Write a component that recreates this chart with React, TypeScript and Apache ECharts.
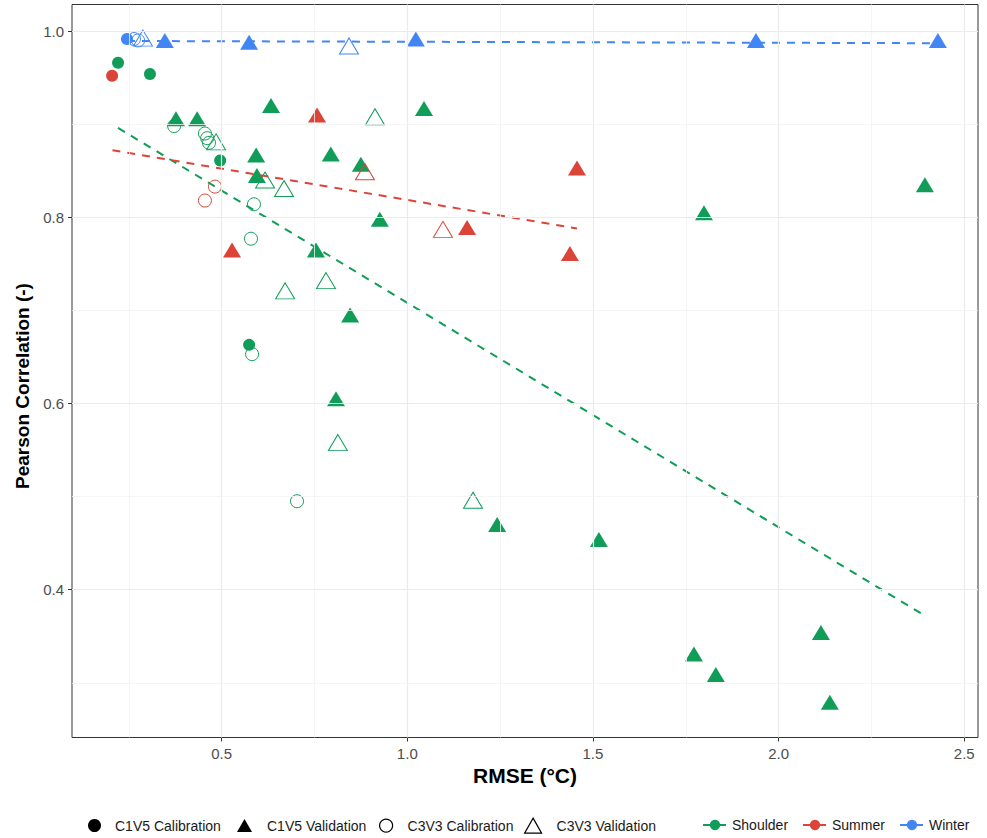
import React, { useEffect, useRef } from "react";
import * as echarts from "echarts";

// ---- data (RMSE °C, Pearson r) ----
const shoulderC1V5Cal = [[0.221, 0.966], [0.307, 0.954], [0.496, 0.861], [0.574, 0.663]];
const shoulderC1V5Val = [
  [0.377, 0.906], [0.434, 0.906], [0.633, 0.92], [1.045, 0.917], [0.593, 0.867],
  [0.794, 0.868], [0.875, 0.857], [0.595, 0.845], [0.926, 0.798], [0.754, 0.765],
  [0.846, 0.695], [0.808, 0.605], [1.242, 0.47], [1.516, 0.454], [1.799, 0.805],
  [2.394, 0.835], [1.772, 0.331], [1.831, 0.309], [2.114, 0.354], [2.138, 0.279],
];
const shoulderC3V3Cal = [
  [0.372, 0.898], [0.455, 0.89], [0.461, 0.885], [0.466, 0.88], [0.587, 0.814],
  [0.579, 0.777], [0.582, 0.653], [0.703, 0.495],
];
const shoulderC3V3Val = [
  [0.485, 0.881], [0.617, 0.84], [0.668, 0.831], [0.913, 0.908], [0.671, 0.721],
  [0.781, 0.732], [0.813, 0.558], [1.177, 0.496],
];
const summerC1V5Cal = [[0.205, 0.952]];
const summerC1V5Val = [[0.757, 0.91], [1.457, 0.853], [0.528, 0.765], [1.161, 0.789], [1.438, 0.761]];
const summerC3V3Cal = [[0.482, 0.833], [0.455, 0.818]];
const summerC3V3Val = [[0.886, 0.849], [1.096, 0.787]];
const winterC1V5Cal = [[0.245, 0.9915]];
const winterC1V5Val = [[0.347, 0.99], [0.574, 0.988], [1.023, 0.9915], [1.939, 0.99], [2.429, 0.99]];
const winterC3V3Cal = [[0.264, 0.9915], [0.275, 0.99]];
const winterC3V3Val = [[0.288, 0.9925], [0.843, 0.984]];

const shoulderTrend = [[0.221, 0.896], [2.394, 0.372]];
const summerTrend = [[0.206, 0.872], [1.457, 0.788]];
const winterTrend = [[0.245, 0.9894], [2.429, 0.987]];

const xTicks = [0.5, 1.0, 1.5, 2.0, 2.5];
const xMinor = [0.25, 0.75, 1.25, 1.75, 2.25];
const yTicks = [0.4, 0.6, 0.8, 1.0];
const yMinor = [0.3, 0.5, 0.7, 0.9];

const shapeNames = ["C1V5 Calibration", "C1V5 Validation", "C3V3 Calibration", "C3V3 Validation"];
const seasonNames = ["Shoulder", "Summer", "Winter"];

const GREEN = "#0F9D58";
const RED = "#DB4437";
const BLUE = "#4285F4";
const FONT = "Liberation Sans, Arial, Helvetica, sans-serif";

type Kind = "fc" | "ft" | "oc" | "ot";

function pointSeries(name: string, data: number[][], color: string, kind: Kind) {
  const base: any = {
    name,
    type: "scatter",
    data,
    z: 3,
    silent: true,
    emphasis: { disabled: true },
  };
  if (kind === "fc") {
    base.symbol = "circle";
    base.symbolSize = 12;
    base.itemStyle = { color, opacity: 1 };
  } else if (kind === "ft") {
    base.symbol = "triangle";
    base.symbolSize = [18, 15];
    base.itemStyle = { color, opacity: 1 };
  } else if (kind === "oc") {
    base.symbol = "circle";
    base.symbolSize = 13;
    base.itemStyle = { color: "rgba(0,0,0,0)", borderColor: color, borderWidth: 1, opacity: 1 };
  } else {
    base.symbol = "triangle";
    base.symbolSize = [19, 16];
    base.itemStyle = { color: "rgba(0,0,0,0)", borderColor: color, borderWidth: 1, opacity: 1 };
  }
  return base;
}

function trendSeries(name: string, data: number[][], color: string) {
  return {
    name,
    type: "line",
    data,
    z: 4,
    silent: true,
    symbol: "circle",
    symbolSize: 10,
    showSymbol: false,
    itemStyle: { color },
    lineStyle: { color, width: 2, type: [8, 7] },
    emphasis: { disabled: true },
  };
}

export default function App() {
  const ref = useRef<HTMLDivElement>(null);
  useEffect(() => {
    document.body.style.margin = "0";
    const chart = echarts.init(ref.current!, undefined, { renderer: "svg" });

    const gridLines: any[] = [];
    xTicks.forEach((v) => gridLines.push({ xAxis: v, lineStyle: { color: "#EBEBEB", width: 1.2, type: "solid" } }));
    xMinor.forEach((v) => gridLines.push({ xAxis: v, lineStyle: { color: "#F2F2F2", width: 0.8, type: "solid" } }));
    yTicks.forEach((v) => gridLines.push({ yAxis: v, lineStyle: { color: "#EBEBEB", width: 1.2, type: "solid" } }));
    yMinor.forEach((v) => gridLines.push({ yAxis: v, lineStyle: { color: "#F2F2F2", width: 0.8, type: "solid" } }));

    const shapeSymbols = [
      { symbol: "circle", color: "#000", border: 0 },
      { symbol: "triangle", color: "#000", border: 0 },
      { symbol: "circle", color: "rgba(0,0,0,0)", border: 1 },
      { symbol: "triangle", color: "rgba(0,0,0,0)", border: 1 },
    ];
    const dummySeries = shapeNames.map((n, i) => ({
      name: n,
      type: "scatter",
      data: [],
      symbol: shapeSymbols[i].symbol,
      itemStyle: {
        color: shapeSymbols[i].color,
        borderColor: "#000",
        borderWidth: shapeSymbols[i].border,
        opacity: 1,
      },
    }));

    const legendText = { fontSize: 14, color: "#1a1a1a", fontFamily: FONT };
    const shapeLegendPos = [
      { left: 88, w: 13, h: 13, pad: 9 },
      { left: 237, w: 15, h: 13, pad: 10 },
      { left: 379, w: 13, h: 13, pad: 10 },
      { left: 524, w: 17, h: 15, pad: 10 },
    ];
    const seasonLegendPos = [702, 802, 899];
    const legends: any[] = [];
    shapeNames.forEach((n, i) => {
      const p = shapeLegendPos[i];
      legends.push({
        data: [n],
        left: p.left,
        top: 825 - p.h / 2,
        itemWidth: p.w,
        itemHeight: p.h,
        padding: 0,
        textStyle: { ...legendText, padding: [0, 0, 0, p.pad] },
        selectedMode: false,
        itemStyle: { borderWidth: shapeSymbols[i].border ? 1.2 : 0 },
      });
    });
    seasonNames.forEach((n, i) => {
      legends.push({
        data: [n],
        left: seasonLegendPos[i],
        top: 818,
        itemWidth: 24,
        itemHeight: 13,
        padding: 0,
        textStyle: legendText,
        selectedMode: false,
      });
    });

    chart.setOption({
      animation: false,
      backgroundColor: "#ffffff",
      textStyle: { fontFamily: FONT },
      legend: legends,
      grid: {
        left: 72,
        right: 9,
        top: 4.5,
        bottom: 100.5,
        containLabel: false,
        show: true,
        borderColor: "#333333",
        borderWidth: 1,
        backgroundColor: "#ffffff",
      },
      xAxis: {
        type: "value",
        min: 0.097,
        max: 2.537,
        name: "RMSE (°C)",
        nameLocation: "middle",
        nameGap: 25,
        nameTextStyle: { fontSize: 21, fontWeight: "bold", color: "#000", fontFamily: FONT },
        axisLine: { show: false },
        axisTick: { show: true, length: 4, lineStyle: { color: "#333333" }, customValues: xTicks },
        axisLabel: {
          customValues: xTicks,
          fontSize: 15,
          color: "#4D4D4D",
          margin: 8,
          formatter: (v: number) => v.toFixed(1),
        },
        splitLine: { show: false },
      },
      yAxis: {
        type: "value",
        min: 0.2412,
        max: 1.0286,
        name: "Pearson Correlation (-)",
        nameLocation: "middle",
        nameGap: 34,
        nameRotate: 90,
        nameTextStyle: {
          fontSize: 19,
          fontWeight: "bold",
          color: "#000",
          fontFamily: FONT,
          padding: [0, 30, 0, 0],
        },
        axisLine: { show: false },
        axisTick: { show: true, length: 4, lineStyle: { color: "#333333" }, customValues: yTicks },
        axisLabel: {
          customValues: yTicks,
          fontSize: 15,
          color: "#4D4D4D",
          margin: 8,
          formatter: (v: number) => v.toFixed(1),
        },
        splitLine: { show: false },
      },
      series: [
        {
          name: "__grid",
          type: "line",
          data: [],
          z: 1,
          silent: true,
          markLine: {
            silent: true,
            symbol: ["none", "none"],
            label: { show: false },
            emphasis: { disabled: true },
            data: gridLines,
          },
        },
        ...dummySeries,
        pointSeries("sh-c1cal", shoulderC1V5Cal, GREEN, "fc"),
        pointSeries("su-c1cal", summerC1V5Cal, RED, "fc"),
        pointSeries("wi-c1cal", winterC1V5Cal, BLUE, "fc"),
        pointSeries("sh-c1val", shoulderC1V5Val, GREEN, "ft"),
        pointSeries("su-c1val", summerC1V5Val, RED, "ft"),
        pointSeries("wi-c1val", winterC1V5Val, BLUE, "ft"),
        pointSeries("sh-c3cal", shoulderC3V3Cal, GREEN, "oc"),
        pointSeries("su-c3cal", summerC3V3Cal, RED, "oc"),
        pointSeries("wi-c3cal", winterC3V3Cal, BLUE, "oc"),
        pointSeries("sh-c3val", shoulderC3V3Val, GREEN, "ot"),
        pointSeries("su-c3val", summerC3V3Val, RED, "ot"),
        pointSeries("wi-c3val", winterC3V3Val, BLUE, "ot"),
        trendSeries("Shoulder", shoulderTrend, GREEN),
        trendSeries("Summer", summerTrend, RED),
        trendSeries("Winter", winterTrend, BLUE),
      ],
    });
    return () => chart.dispose();
  }, []);
  return (
    <div
      ref={ref}
      style={{ position: "fixed", left: 0, top: 0, width: 987, height: 838 }}
    />
  );
}
